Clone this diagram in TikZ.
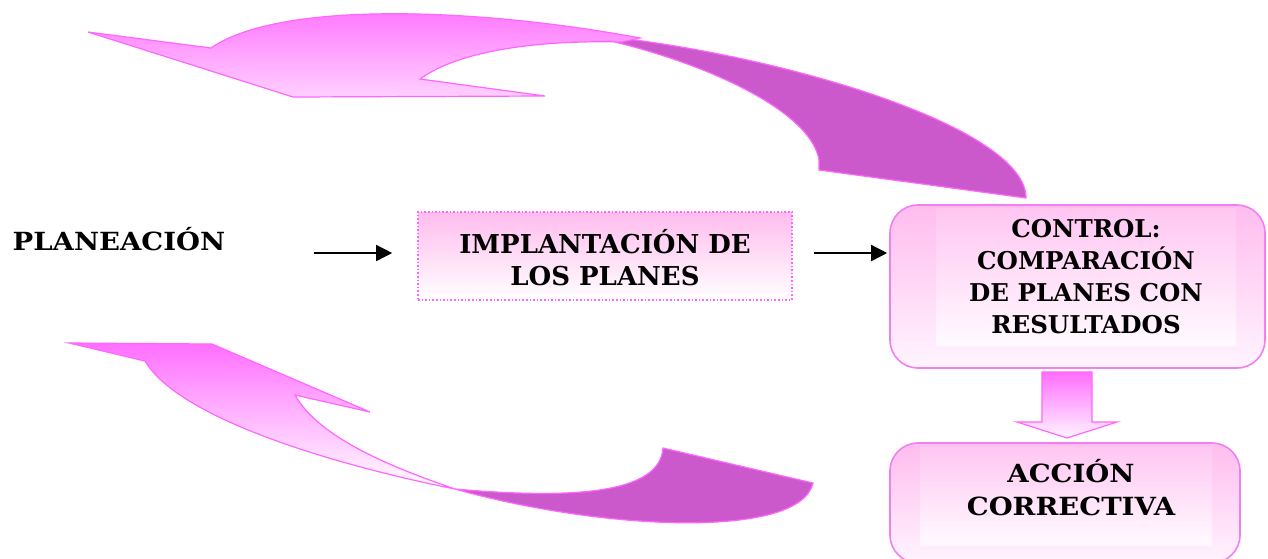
\documentclass[tikz,border=0pt]{standalone}
\usepackage{fontspec}
\setmainfont{DejaVu Serif}
\newfontfamily\widefont[FakeStretch=1.1]{DejaVu Serif}
\usetikzlibrary{arrows.meta,calc}
\definecolor{rib}{RGB}{255,110,255}
\definecolor{ribl}{RGB}{255,208,255}
\definecolor{ribline}{RGB}{255,102,255}
\definecolor{dark}{RGB}{204,89,204}
\definecolor{boxtop}{RGB}{255,188,238}
\definecolor{boxbot}{RGB}{255,244,255}
\definecolor{innertop}{RGB}{255,198,242}
\definecolor{innerbot}{RGB}{255,250,255}
\definecolor{boxline}{RGB}{240,128,240}
\tikzset{
  lbl/.style={align=center, inner sep=0pt},
  roundbox/.style={draw=boxline, line width=1.6pt, rounded corners=28pt, top color=boxtop, bottom color=boxbot},
  innerband/.style={top color=innertop, bottom color=innerbot, draw=none},
  dotbox/.style={draw=ribline, dotted, line width=1.6pt, top color=boxtop, bottom color=white, minimum width=374pt, minimum height=88pt},
  flow/.style={line width=1.5pt, -{Triangle[length=16pt,width=16pt]}},
  ribbon/.style={draw=ribline, line width=1.2pt, line join=miter},
}
\begin{document}
\begin{tikzpicture}[x=1pt,y=-1pt]
\useasboundingbox (0,0) rectangle (1268,558);
\clip (0,0) rectangle (1268,558);

% top curved arrow: dark back part
\path[ribbon, fill=dark] (620,38) .. controls (800,60) and (1026,130) .. (1026,198)
  -- (819,170) -- (819,160) .. controls (812,115) and (720,68) .. (615,42) -- cycle;
% top curved arrow: light front part
\path[ribbon, top color=rib, bottom color=ribl] (88,32) -- (211,48)
  .. controls (280,0) and (480,8) .. (640,38) -- (622,42)
  .. controls (540,40) and (460,50) .. (420,79) -- (545,96) -- (293,97) -- cycle;

% bottom curved arrow: dark part
\path[ribbon, fill=dark] (455,489) .. controls (580,500) and (660,492) .. (663,448)
  -- (813,483) .. controls (800,540) and (600,530) .. (455,489) -- cycle;
% bottom curved arrow: light part
\path[ribbon, top color=rib, bottom color=white] (69,343) -- (212,344) -- (370,412) -- (295,395)
  .. controls (320,440) and (400,470) .. (455,489)
  .. controls (340,466) and (180,420) .. (145,361) -- cycle;

% boxes
\node[dotbox] (impl) at (605,256) {};
\node[roundbox, minimum width=375pt, minimum height=163pt] (control) at (1077.5,286.5) {};
\path[innerband] (936,208) rectangle (1236,345);
\node[roundbox, minimum width=350pt, minimum height=120pt] (accion) at (1065,503) {};
\path[innerband] (920,446) rectangle (1212,545);

% texts
\node[lbl, font=\widefont\fontsize{25}{32}\selectfont\bfseries] (plan) at (119,239) {PLANEACIÓN};
\node[lbl, font=\fontsize{26}{32}\selectfont\bfseries] (impltxt) at (605,258) {IMPLANTACIÓN DE\\LOS PLANES};
\node[lbl, font=\fontsize{24.5}{32}\selectfont\bfseries] (controltxt) at (1086,277) {CONTROL:\\COMPARACIÓN\\DE PLANES CON\\RESULTADOS};
\node[lbl, font=\widefont\fontsize{25}{33}\selectfont\bfseries] (acciontxt) at (1071,488) {ACCIÓN\\CORRECTIVA};

% connectors
\draw[flow, shorten <=88pt, shorten >=25pt] ($(plan.east |- impl.center)+(0,-3)$) -- ($(impl.west)+(0,-3)$);
\draw[flow, shorten <=21pt, shorten >=2pt] ($(impl.east)+(0,-3)$) -- ($(impl.east -| control.west)+(0,-3)$);

% down block arrow
\path[draw=ribline, line width=1.2pt, top color=rib, bottom color=boxbot]
  (1042,372) -- (1092,372) -- (1092,422) -- (1117,422) -- (1067,438) -- (1017,422) -- (1042,422) -- cycle;
\end{tikzpicture}
\end{document}
